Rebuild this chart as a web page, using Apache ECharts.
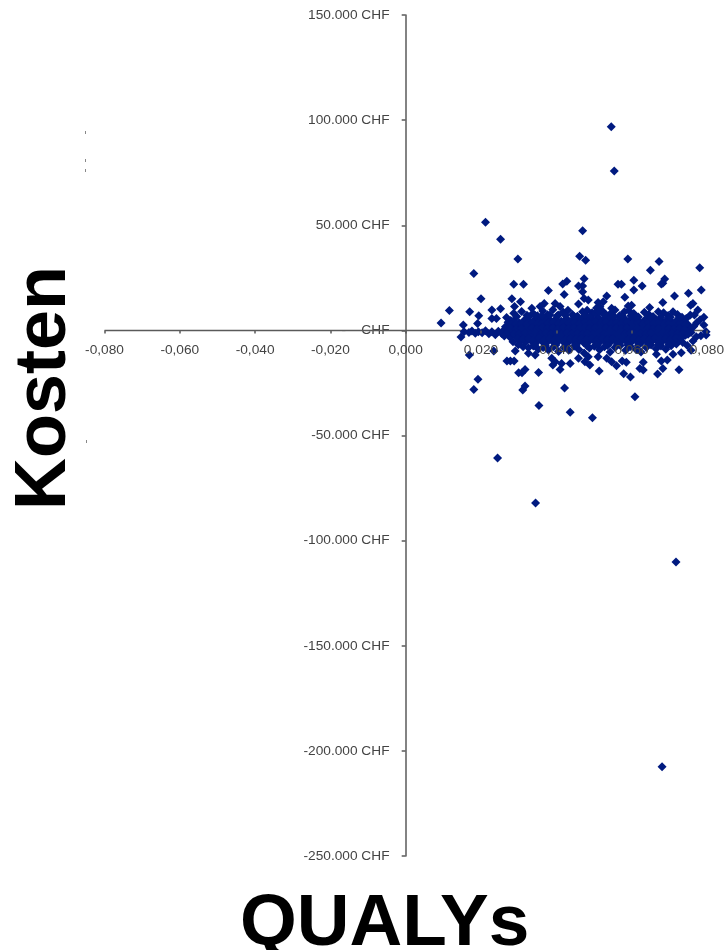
<!DOCTYPE html>
<html><head><meta charset="utf-8">
<style>html,body{margin:0;padding:0;background:#fff}#c{width:727px;height:950px;filter:blur(0.5px)}</style>
<script src="https://cdn.jsdelivr.net/npm/echarts@6/dist/echarts.min.js"></script>
</head><body><div id="c"></div>
<script>
const xTicks = {min:-0.08, max:0.08, step:0.02};
const yTicks = {min:-250000, max:150000, step:50000};
const xTitle = "QUALYs";
const yTitle = "Kosten";
const farOutliers = [[0.0546,96800],[0.0554,75800],[0.0244,-60700],[0.0345,-82100],[0.0718,-110200],[0.0681,-207600]];
const upperScatter = [[0.0212,51400],[0.0252,43300],[0.047,47400],[0.0298,34000],[0.0462,35200],[0.0478,33300],[0.059,34000],[0.0673,32700],[0.065,28600],[0.0781,29800],[0.0181,27000],[0.0287,21900],[0.0313,21900],[0.0474,24600],[0.0428,23400],[0.0417,22100],[0.0094,3500],[0.0116,9500],[0.0153,2500],[0.017,8900],[0.0147,-3200],[0.0194,7000],[0.0191,3300],[0.02,15100],[0.0229,9700],[0.0252,10300],[0.0229,5700],[0.0241,5700],[0.0282,15100],[0.0305,13600],[0.0289,11300],[0.0287,8100],[0.0335,10500],[0.0379,19000],[0.0421,17100],[0.0368,12800],[0.0357,11300],[0.0397,12800],[0.041,11300],[0.0459,12500],[0.047,18400],[0.047,21100],[0.0459,21100],[0.0474,15200],[0.0485,14400],[0.0511,13200],[0.0525,13600],[0.0534,16300],[0.0564,21900],[0.0573,21900],[0.0606,23900],[0.0606,19200],[0.0628,21100],[0.0582,15700],[0.0683,22400],[0.0679,22000],[0.0688,24400],[0.0714,16300],[0.0751,17600],[0.0785,19200],[0.0763,12800],[0.0757,12000],[0.0683,13200],[0.0648,10900],[0.0776,9700],[0.0767,7300],[0.0792,6200],[0.0792,2500],[0.0798,-2200],[0.0798,-600],[0.0547,10500],[0.0556,9700],[0.0591,11600],[0.06,12000]];
const lowerScatter = [[0.0169,-11700],[0.0234,-9800],[0.0269,-14600],[0.0278,-14600],[0.0288,-14600],[0.03,-20100],[0.0309,-20100],[0.0317,-18600],[0.0353,-20000],[0.0192,-23300],[0.0181,-28100],[0.0311,-28400],[0.0317,-26500],[0.0422,-27400],[0.0354,-35700],[0.0437,-39000],[0.0496,-41600],[0.0609,-31600],[0.0726,-18700],[0.0669,-20800],[0.0683,-18100],[0.0597,-22200],[0.0579,-20600],[0.0622,-18100],[0.0631,-18900],[0.0514,-19300],[0.056,-16800],[0.0575,-14600],[0.0586,-15200],[0.0631,-15200],[0.0679,-14600],[0.0695,-14100],[0.0666,-11300],[0.071,-11300],[0.0732,-10600],[0.0388,-13300],[0.0397,-14900],[0.0414,-15700],[0.0437,-15700],[0.041,-18600],[0.0391,-16500],[0.0459,-13300],[0.0476,-14900],[0.0489,-16500],[0.0485,-12500],[0.0511,-12500],[0.0534,-13300],[0.0547,-14900],[0.0291,-9800],[0.0326,-10900],[0.0344,-11700],[0.0763,-5000],[0.0758,-9400]];
const leftTail = [[0.0155,-700],[0.0168,-1000],[0.0176,-300],[0.0185,-1400],[0.0193,-600],[0.0203,-1100],[0.0212,-200],[0.0221,-1600],[0.0229,-700],[0.0238,-2100],[0.0246,-400],[0.0255,-1500],[0.0263,500],[0.0262,-2700],[0.0271,-900],[0.0279,1400],[0.0277,-3300],[0.0286,-1200]];
const upperFringe = [[0.0268,6100],[0.0279,4700],[0.0295,6600],[0.0308,9000],[0.0322,7200],[0.0338,8200],[0.035,6900],[0.0364,9200],[0.0377,7400],[0.0391,9800],[0.0405,7300],[0.0418,8700],[0.0431,9600],[0.0443,7600],[0.0456,6700],[0.047,8900],[0.0482,9600],[0.0495,8400],[0.0507,10600],[0.0516,11200],[0.0524,9000],[0.0533,7300],[0.0545,8100],[0.0568,7000],[0.0581,8900],[0.0593,9300],[0.0606,8000],[0.0618,6400],[0.0634,8600],[0.0646,7500],[0.0657,6600],[0.0671,8900],[0.0685,8400],[0.0697,7100],[0.071,8800],[0.0722,7500],[0.0734,6300],[0.0745,5600],[0.0756,7300],[0.0773,3600],[0.0765,1800],[0.0782,5000]];
const lowerFringe = [[0.0285,-5400],[0.0299,-6800],[0.0312,-7800],[0.0326,-8300],[0.0339,-7400],[0.0352,-9000],[0.0365,-8100],[0.0379,-9300],[0.0393,-7800],[0.0406,-10000],[0.042,-8100],[0.0433,-9500],[0.0447,-7500],[0.046,-9100],[0.0474,-10800],[0.0488,-8400],[0.0501,-7500],[0.0515,-9200],[0.0528,-7800],[0.0543,-10300],[0.0556,-8100],[0.057,-7200],[0.0584,-9400],[0.0597,-7700],[0.0612,-9100],[0.0625,-10300],[0.0639,-8200],[0.0652,-7000],[0.0665,-8700],[0.0678,-7400],[0.0691,-9000],[0.0705,-7300],[0.0719,-6500],[0.0736,-5800],[0.0748,-7200],[0.0772,-3000],[0.0784,-2600]];
const coreTop = [[0.0272,3900],[0.0286,4400],[0.0301,3600],[0.0315,4800],[0.0329,4100],[0.0343,5200],[0.0357,4400],[0.0371,5500],[0.0385,4600],[0.0399,5400],[0.0413,4300],[0.0427,5600],[0.0441,4700],[0.0455,4100],[0.0469,5300],[0.0483,5900],[0.0497,4800],[0.0511,6200],[0.0525,4900],[0.0539,5700],[0.0553,4300],[0.0567,4900],[0.0581,5600],[0.0595,4700],[0.0609,5000],[0.0623,4000],[0.0637,5300],[0.0651,4300],[0.0665,5000],[0.0679,4500],[0.0693,4800],[0.0707,4000],[0.0721,4900],[0.0735,3900],[0.0749,2900]];
const coreUpperMid = [[0.0265,1700],[0.0279,2100],[0.0293,1400],[0.0307,2300],[0.0321,1800],[0.0335,2500],[0.0349,1900],[0.0363,2700],[0.0377,2000],[0.0391,2400],[0.0405,1700],[0.0419,2600],[0.0433,2100],[0.0447,2800],[0.0461,1900],[0.0475,2600],[0.0489,2000],[0.0503,2800],[0.0517,2200],[0.0531,2500],[0.0545,1800],[0.0559,2400],[0.0573,1900],[0.0587,2600],[0.0601,2000],[0.0615,2300],[0.0629,1600],[0.0643,2400],[0.0657,1900],[0.0671,2200],[0.0685,1600],[0.0699,2300],[0.0713,1700],[0.0727,2200],[0.0741,1300],[0.0755,800]];
const coreMiddle = [[0.0272,-600],[0.0286,-200],[0.03,-500],[0.0314,100],[0.0328,-400],[0.0342,200],[0.0356,-300],[0.037,400],[0.0384,-200],[0.0398,100],[0.0412,-500],[0.0426,300],[0.044,-300],[0.0454,200],[0.0468,-400],[0.0482,300],[0.0496,-200],[0.051,400],[0.0524,-300],[0.0538,200],[0.0552,-500],[0.0566,100],[0.058,-300],[0.0594,300],[0.0608,-400],[0.0622,200],[0.0636,-200],[0.065,100],[0.0664,-500],[0.0678,200],[0.0692,-300],[0.0706,100],[0.072,-400],[0.0734,100],[0.0748,-500],[0.0758,-1000]];
const coreLowerMid = [[0.0295,-2700],[0.0309,-3000],[0.0323,-2400],[0.0337,-2900],[0.0351,-2600],[0.0365,-3100],[0.0379,-2500],[0.0393,-3000],[0.0407,-2700],[0.0421,-3200],[0.0435,-2500],[0.0449,-2900],[0.0463,-2600],[0.0477,-3200],[0.0491,-2800],[0.0505,-3300],[0.0519,-2600],[0.0533,-3000],[0.0547,-2700],[0.0561,-3100],[0.0575,-2500],[0.0589,-3000],[0.0603,-2600],[0.0617,-3200],[0.0631,-2800],[0.0645,-3100],[0.0659,-2500],[0.0673,-2900],[0.0687,-2600],[0.0701,-3000],[0.0715,-2400],[0.0729,-2800],[0.0743,-2300]];
const coreBottom = [[0.0305,-5000],[0.0319,-5400],[0.0333,-4900],[0.0347,-5600],[0.0361,-5100],[0.0375,-5700],[0.0389,-5000],[0.0403,-5500],[0.0417,-5200],[0.0431,-5800],[0.0445,-5000],[0.0459,-5400],[0.0473,-5900],[0.0487,-5200],[0.0501,-5000],[0.0515,-5700],[0.0529,-5300],[0.0543,-5800],[0.0557,-5000],[0.0571,-5500],[0.0585,-5100],[0.0599,-5600],[0.0613,-5000],[0.0627,-5700],[0.0641,-5300],[0.0655,-4900],[0.0669,-5400],[0.0683,-5000],[0.0697,-5500],[0.0711,-4800],[0.0725,-4600]];
const fillA = [[0.0279,3000],[0.0293,3100],[0.0308,3400],[0.0322,2900],[0.0336,3700],[0.035,3300],[0.0364,3900],[0.0378,3400],[0.0392,4000],[0.0406,3200],[0.042,3900],[0.0434,3500],[0.0448,3800],[0.0462,3200],[0.0476,4100],[0.049,3600],[0.0504,4300],[0.0518,3500],[0.0532,4000],[0.0546,3300],[0.056,3700],[0.0574,3400],[0.0588,3900],[0.0602,3400],[0.0616,3600],[0.063,3000],[0.0644,3700],[0.0658,3200],[0.0672,3600],[0.0686,3000],[0.07,3500],[0.0714,3000],[0.0728,3500],[0.0742,2700]];
const fillB = [[0.0279,800],[0.0293,500],[0.0307,900],[0.0321,700],[0.0335,1100],[0.0349,800],[0.0363,1200],[0.0377,900],[0.0391,1000],[0.0405,600],[0.0419,1200],[0.0433,900],[0.0447,1200],[0.0461,800],[0.0475,1100],[0.0489,900],[0.0503,1300],[0.0517,1000],[0.0531,1100],[0.0545,700],[0.0559,1000],[0.0573,800],[0.0587,1100],[0.0601,900],[0.0615,1000],[0.0629,600],[0.0643,1000],[0.0657,800],[0.0671,900],[0.0685,600],[0.0699,900],[0.0713,600],[0.0727,800],[0.0741,400]];
const fillC = [[0.0288,-1600],[0.0302,-1700],[0.0316,-1300],[0.033,-1700],[0.0344,-1400],[0.0358,-1800],[0.0372,-1300],[0.0386,-1700],[0.04,-1500],[0.0414,-1900],[0.0428,-1300],[0.0442,-1700],[0.0456,-1400],[0.047,-1900],[0.0484,-1500],[0.0498,-1800],[0.0512,-1300],[0.0526,-1700],[0.054,-1500],[0.0554,-1800],[0.0568,-1300],[0.0582,-1700],[0.0596,-1400],[0.061,-1800],[0.0624,-1500],[0.0638,-1700],[0.0652,-1300],[0.0666,-1700],[0.068,-1400],[0.0694,-1700],[0.0708,-1300],[0.0722,-1600],[0.0736,-1500],[0.075,-1900]];
const fillD = [[0.0298,-3900],[0.0312,-4100],[0.0326,-3700],[0.034,-4200],[0.0354,-3800],[0.0368,-4400],[0.0382,-3800],[0.0396,-4300],[0.041,-3900],[0.0424,-4500],[0.0438,-3800],[0.0452,-4200],[0.0466,-3900],[0.048,-4500],[0.0494,-4000],[0.0508,-4400],[0.0522,-3900],[0.0536,-4300],[0.055,-3900],[0.0564,-4300],[0.0578,-3800],[0.0592,-4300],[0.0606,-3900],[0.062,-4400],[0.0634,-4000],[0.0648,-4200],[0.0662,-3700],[0.0676,-4200],[0.069,-3800],[0.0704,-4200],[0.0718,-3600],[0.0732,-3800]];
const extraFringe = [[0.0326,6400],[0.0345,7000],[0.0362,6900],[0.0383,7300],[0.0402,6800],[0.0424,7200],[0.0447,6600],[0.0476,7200],[0.0491,7000],[0.0503,8100],[0.0514,8600],[0.0528,7400],[0.0553,6600],[0.0574,7100],[0.0598,7000],[0.0612,6500],[0.0651,6100],[0.0678,6300],[0.0703,6200],[0.0728,6300],[0.0343,-6900],[0.0371,-7100],[0.0399,-7000],[0.0427,-7100],[0.0453,-6900],[0.0481,-7200],[0.0509,-6900],[0.0536,-7200],[0.0563,-6800],[0.059,-7000],[0.0618,-7100],[0.0645,-6700],[0.0672,-6800],[0.0699,-6700]];
const stray = [[85,131],[85,159],[85,169],[86,440]];

const points = [].concat(farOutliers,upperScatter,lowerScatter,leftTail,upperFringe,lowerFringe,coreTop,coreUpperMid,coreMiddle,coreLowerMid,coreBottom,fillA,fillB,fillC,fillD,extraFringe);
const textStyle = {color:'#444', fontFamily:'"Liberation Sans",Arial,sans-serif', fontSize:13.7};
const lineStyle = {color:'#5a5a5a', width:1.5};
const yFmt = v => v === 0 ? '-    CHF' : (v<0?'-':'') + String(Math.abs(v)).replace(/\B(?=(\d{3})+$)/g,'.') + ' CHF';
const chart = echarts.init(document.getElementById('c'), null, {renderer:'canvas'});
const boldBase = {fontFamily:'"Liberation Sans",Arial,sans-serif', fontWeight:'bold', fill:'#000'};
chart.setOption({
  animation:false,
  backgroundColor:'#fff',
  grid:{left:104.5, right:18, top:15, bottom:94},
  xAxis:{type:'value', min:xTicks.min, max:xTicks.max, interval:xTicks.step, z:5,
     axisLine:{show:true,onZero:true,lineStyle:{color:'rgba(0,0,0,0)',width:1}}, axisTick:{show:true,length:3,lineStyle}, splitLine:{show:false},
     axisLabel:{...textStyle, margin:-513, showMinLabel:true, showMaxLabel:true, formatter:v=>v.toFixed(3).replace('.',',')}},
  yAxis:{type:'value', min:yTicks.min, max:yTicks.max, interval:yTicks.step, z:0,
     axisLine:{show:true,onZero:true,lineStyle}, axisTick:{show:true,length:4,lineStyle}, splitLine:{show:false},
     axisLabel:{...textStyle, margin:-285, showMinLabel:true, showMaxLabel:true, formatter:yFmt}},
  series:[
    {type:'line', data:[[xTicks.min,0],[xTicks.max,0]], showSymbol:false, symbol:'none', z:1, silent:true, lineStyle:{color:'#5a5a5a',width:1.5}},
    {type:'scatter', data:points, symbol:'diamond', symbolSize:9, z:2, itemStyle:{color:'#001a80', opacity:1}, silent:true}
  ],
  graphic:[
    {type:'text', left:240, top:888, style:{...boldBase, fontSize:73, text:xTitle}, z:10},
    {type:'text', rotation:Math.PI/2, style:{...boldBase, fontSize:72, text:yTitle, textAlign:'center', textVerticalAlign:'middle'}, x:45, y:388, z:10}
  ].concat(stray.map(p=>({type:'rect', shape:{x:p[0],y:p[1],width:1,height:3}, style:{fill:'#888'}, z:10})))
});
</script></body></html>
